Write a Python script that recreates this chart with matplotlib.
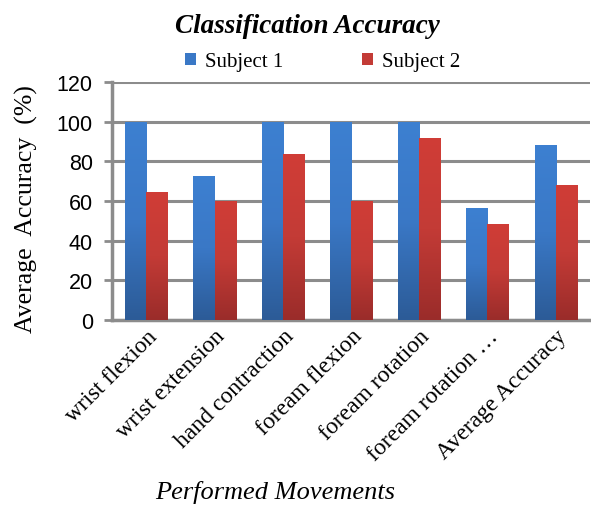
import numpy as np
import matplotlib.pyplot as plt
from matplotlib.colors import LinearSegmentedColormap

# Data
movements = ['wrist flexion', 'wrist extension', 'hand contraction', 'foream flexion',
             'foream rotation', 'foream rotation \u2026', 'Average Accuracy']
subject1 = [100, 72.5, 100, 100, 100, 56.5, 88]
subject2 = [64.5, 60, 83.5, 60, 91.5, 48.5, 68]

serif = 'Liberation Serif'
sans = 'Liberation Sans'

blue_map = LinearSegmentedColormap.from_list('b', ['#2C5B97', '#3A78C6', '#3D80D1'])
red_map = LinearSegmentedColormap.from_list('r', ['#9A2C2A', '#C33B36', '#D03D37'])

fig = plt.figure(figsize=(5.91, 5.06), dpi=100)
ax = fig.add_axes([0.19, 0.366, 0.808, 0.47])

x = np.arange(len(movements))
w = 0.31
bars1 = ax.bar(x - w / 2, subject1, w, color='#3A78C6', label='Subject 1', zorder=3)
bars2 = ax.bar(x + w / 2, subject2, w, color='#C33B36', label='Subject 2', zorder=3)

ax.set_xlim(-0.5, len(movements) - 0.5)
ax.set_ylim(0, 120)

# gradient fill for each bar
grad = np.linspace(0, 1, 256).reshape(-1, 1)
for bars, cmap in [(bars1, blue_map), (bars2, red_map)]:
    for b in bars:
        x0, y0 = b.get_x(), b.get_y()
        im = ax.imshow(grad, cmap=cmap, origin='lower', aspect='auto',
                       extent=[x0, x0 + b.get_width(), y0, y0 + b.get_height()],
                       zorder=3.5)
        im.set_clip_path(b)

ax.set_xlim(-0.5, len(movements) - 0.5)
ax.set_ylim(0, 120)
ax.set_yticks(range(0, 121, 20))
ax.yaxis.grid(True, color='#8C8C8C', linewidth=2.2, zorder=0)
ax.set_axisbelow(True)

for s in ['top', 'right']:
    ax.spines[s].set_visible(False)
for s in ['left', 'bottom']:
    ax.spines[s].set_color('#8C8C8C')
    ax.spines[s].set_linewidth(2.5)

ax.tick_params(axis='y', length=6, width=2, color='#8C8C8C', labelsize=15.5, pad=8)
ax.tick_params(axis='x', length=0, pad=4)
for t in ax.get_yticklabels():
    t.set_fontfamily(sans)

ax.set_xticks(x)
ax.set_xticklabels(movements, rotation=45, ha='right', rotation_mode='anchor',
                   fontsize=17, fontfamily=serif)

ax.set_ylabel('Average  Accuracy  (%)', fontsize=18.5, fontfamily=serif)
ax.yaxis.set_label_coords(-0.155, 0.47)
ax.set_xlabel('Performed Movements', fontsize=19, fontfamily=serif, style='italic')
ax.xaxis.set_label_coords(0.34, -0.675)

fig.text(0.52, 0.948, 'Classification Accuracy', ha='center', va='center',
         fontsize=19.5, fontfamily=serif, fontweight='bold', style='italic')

leg = ax.legend(loc='center', bbox_to_anchor=(0.44, 1.085), ncol=2, frameon=False,
                prop={'family': serif, 'size': 15}, handlelength=0.55, handleheight=0.55,
                handletextpad=0.4, columnspacing=3.8)

fig.savefig('out.png', dpi=100)
